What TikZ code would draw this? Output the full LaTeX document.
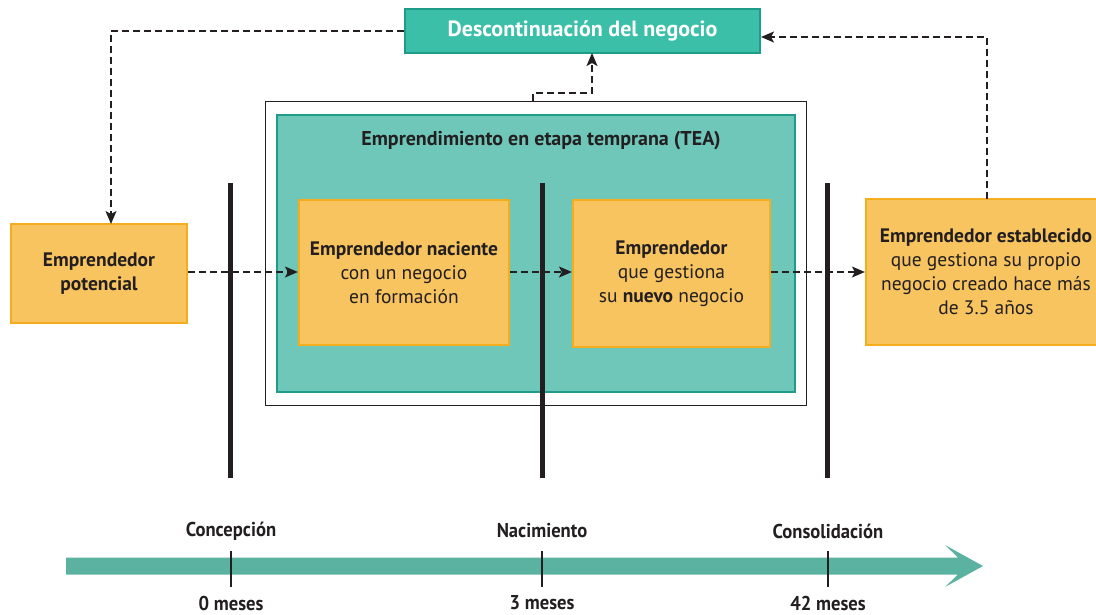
\documentclass[tikz,border=0pt]{standalone}
\usepackage{fontspec}
\setmainfont{PT Sans}
\usetikzlibrary{arrows.meta}
\definecolor{orfill}{HTML}{F7C460}
\definecolor{ordraw}{HTML}{F4AD1E}
\definecolor{tealin}{HTML}{6EC7B8}
\definecolor{tealdraw}{HTML}{1F9C89}
\definecolor{tealtop}{HTML}{3CBFA9}
\definecolor{tealline}{HTML}{5BB2A1}
\definecolor{txt}{HTML}{231F20}
\tikzset{
  obox/.style={draw=ordraw, line width=2.2pt, fill=orfill, text=txt, align=center, inner sep=0pt, font=\fontsize{19.5}{24}\selectfont},
  dasharrow/.style={draw=txt, line width=1.3pt, dash pattern=on 7pt off 4pt, -{Stealth[length=13pt,width=11pt,inset=3pt]}},
  bar/.style={draw=txt, line width=5pt},
  tick/.style={draw=txt, line width=1.6pt},
  tlabel/.style={text=txt, font=\fontsize{20}{22}\selectfont\bfseries, xscale=0.93},
}
\begin{document}
\begin{tikzpicture}[x=1pt,y=-1pt]
\useasboundingbox (0,0) rectangle (1096,614);
% outer frame and TEA box
\node[draw=txt, line width=0.9pt, minimum width=541pt, minimum height=304pt, inner sep=0pt] (outer) at (535.5,253) {};
\node[draw=tealdraw, line width=2.2pt, fill=tealin, minimum width=518pt, minimum height=277pt, inner sep=0pt] (tea) at (536,253.5) {};
\node[text=txt, font=\fontsize{20}{22}\selectfont\bfseries] (tealabel) at (541,141) {Emprendimiento en etapa temprana (TEA)};
% top box
\node[draw=tealdraw, line width=2pt, fill=tealtop, text=white, minimum width=355pt, minimum height=44pt, inner sep=0pt, font=\fontsize{22}{24}\selectfont\bfseries] (desc) at (582.5,31) {Descontinuación del negocio};
% bars
\coordinate (b1t) at (230,183); \coordinate (b1b) at (230,478);
\coordinate (b2t) at (542,183); \coordinate (b2b) at (542,478);
\coordinate (b3t) at (827,183); \coordinate (b3b) at (827,478);
\draw[bar] (b1t) -- (b1b);
\draw[bar] (b2t) -- (b2b);
\draw[bar] (b3t) -- (b3b);
% orange boxes
\node[obox, minimum width=176pt, minimum height=99pt] (pot) at (99,273.5) {\bfseries Emprendedor\\\bfseries potencial};
\node[obox, minimum width=210pt, minimum height=145pt] (nac) at (404,272.5) {\bfseries Emprendedor naciente\\con un negocio\\en formación};
\node[obox, minimum width=197pt, minimum height=147pt] (nue) at (671.5,273.5) {\bfseries Emprendedor\\que gestiona\\su \textbf{nuevo} negocio};
\node[obox, minimum width=240pt, minimum height=146pt] (est) at (986,272) {\bfseries Emprendedor establecido\\que gestiona su propio\\negocio creado hace más\\de 3.5 años};
% arrows
\draw[dasharrow] (pot.east |- 0,272) -- (nac.west |- 0,272);
\draw[dasharrow] (nac.east |- 0,272) -- (nue.west |- 0,272);
\draw[dasharrow] (nue.east |- 0,272) -- (est.west |- 0,272);
\coordinate (estup) at (987,199);
\draw[dasharrow] (estup) -- (987,37) -- (desc.east |- 0,37);
\draw[dasharrow] (desc.west) -- (111,31) -- (111,224);
\coordinate (outtop) at (533,101);
\draw[dasharrow] (outtop) -- (533,93) -- (592,93) -- (592,53);
% timeline
\draw[draw=none, fill=tealline] (66,557.5) -- (958,557.5) -- (945,545) -- (983,566) -- (945,587) -- (958,574.5) -- (66,574.5) -- cycle;
\foreach \x/\n/\a/\b in {231/t1/Concepción/0 meses, 542/t2/Nacimiento/3 meses, 828/t3/Consolidación/42 meses}{
  \draw[tick] (\x,551) -- (\x,587);
  \node[tlabel] (\n a) at (\x,531) {\a};
  \node[tlabel] (\n b) at (\x,603) {\b};
}
\end{tikzpicture}
\end{document}
